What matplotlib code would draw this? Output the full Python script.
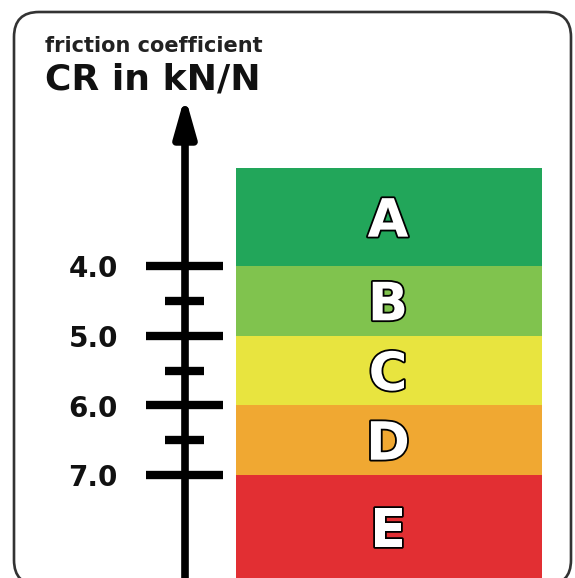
import matplotlib
matplotlib.use("Agg")
import matplotlib.pyplot as plt
import matplotlib.patheffects as pe
from matplotlib.patches import FancyBboxPatch
from matplotlib.transforms import IdentityTransform

# Data
classes = ["A", "B", "C", "D", "E"]
class_edges = [2.6, 4.0, 5.0, 6.0, 7.0, 8.5]
class_colors = ["#22a65a", "#80c34e", "#e8e43f", "#f0a832", "#e22f33"]
major_ticks = [4.0, 5.0, 6.0, 7.0]
major_labels = ["4.0", "5.0", "6.0", "7.0"]
minor_ticks = [4.5, 5.5, 6.5]
arrow_top = 1.56

fig = plt.figure(figsize=(5.75, 5.78), dpi=100)
ax = fig.add_axes([0, 0, 1, 1])
ax.set_xlim(0, 575)
ax.set_ylim(8.476, 0.184)
ax.axis("off")

# rounded frame
frame = FancyBboxPatch((14, -7), 557, 573, boxstyle="round,pad=0,rounding_size=25",
                       transform=IdentityTransform(), fill=False,
                       edgecolor="#333333", linewidth=1.9)
fig.patches.append(frame)

# colour bands
tops = class_edges[:-1]
heights = [b - t for t, b in zip(class_edges[:-1], class_edges[1:])]
ax.barh(tops, 306, height=heights, left=236, align="edge",
        color=class_colors, edgecolor="none")

for cls, t, h in zip(classes, tops, heights):
    ax.annotate(cls, xy=(388, t + h / 2), xytext=(0, -14), textcoords="offset points",
                ha="center", va="baseline", fontsize=38, fontweight="bold",
                color="white",
                path_effects=[pe.withStroke(linewidth=2.6, foreground="black")])

# axis with arrow
ax.annotate("", xy=(185, arrow_top), xytext=(185, 8.6),
            arrowprops=dict(arrowstyle="-|>,head_length=2.3,head_width=0.65",
                            mutation_scale=10, lw=5.5, color="black",
                            shrinkA=0, shrinkB=0, joinstyle="round"))

ax.hlines(major_ticks, 146, 223, color="black", lw=6, capstyle="butt")
ax.hlines(minor_ticks, 165, 204, color="black", lw=6, capstyle="butt")

for v, lab in zip(major_ticks, major_labels):
    ax.annotate(lab, xy=(118, v), xytext=(0, -8), textcoords="offset points",
                ha="right", va="baseline", fontsize=20, fontweight="bold",
                color="#111111")

fig.text(45 / 575, 1 - 52 / 578, "friction coefficient", fontsize=15,
         fontweight="bold", color="#222222", ha="left", va="baseline")
fig.text(45 / 575, 1 - 90 / 578, "CR in kN/N", fontsize=26,
         fontweight="bold", color="#111111", ha="left", va="baseline")

fig.savefig("out.png", dpi=100)
